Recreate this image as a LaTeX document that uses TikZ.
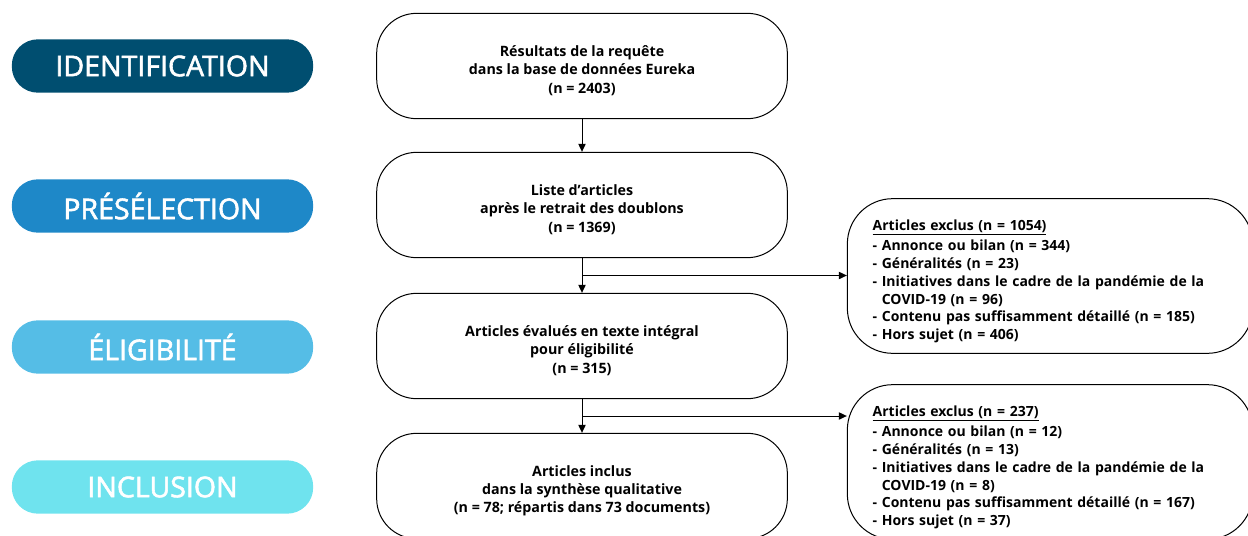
\documentclass[tikz,border=0pt]{standalone}
\usepackage{fontspec}
\setmainfont{Open Sans}
\newfontfamily\phasefont{Open Sans}[FakeBold=2]
\usepackage{xcolor}
\usetikzlibrary{arrows.meta,calc}
\definecolor{phaseA}{RGB}{0,78,112}
\definecolor{phaseB}{RGB}{30,136,200}
\definecolor{phaseC}{RGB}{85,189,230}
\definecolor{phaseD}{RGB}{111,227,238}
\newcommand{\toprule}{\rule{0pt}{15pt}}
\tikzset{
  phase/.style={rounded corners=19.5pt,minimum width=226pt,minimum height=40pt,
    text=white,font=\phasefont\fontsize{21.4}{24}\selectfont,inner sep=0pt},
  flowbox/.style={draw,line width=0.75pt,rounded corners=30pt,minimum width=308pt,
    minimum height=79pt,align=center,font=\bfseries\fontsize{10.7}{13.7}\selectfont},
  exclbox/.style={draw,line width=0.75pt,rounded corners=34pt,minimum width=304pt,
    minimum height=116pt,inner xsep=19pt,text width=266pt,align=left,
    font=\bfseries\fontsize{10.5}{13.3}\selectfont,
    execute at begin node=\rule{0pt}{16pt}},
  flow/.style={line width=0.75pt,-{Triangle[length=6pt,width=5.5pt]}}
}
\begin{document}
\begin{tikzpicture}[x=0.75pt,y=-0.75pt]
\useasboundingbox (0,0) rectangle (1248,535);
% phases
\node[phase,fill=phaseA] (idlab) at (162.5,66) {IDENTIFICATION};
\node[phase,fill=phaseB] (prelab) at (162.5,206) {PRÉSÉLECTION};
\node[phase,fill=phaseC] (elilab) at (162.5,347) {ÉLIGIBILITÉ};
\node[phase,fill=phaseD] (inclab) at (162.5,487) {INCLUSION};
% main flow
\node[flowbox] (id) at (582,66) {\toprule Résultats de la requête\\dans la base de données Eureka\\(n = 2403)};
\node[flowbox] (pre) at (582,205) {\toprule Liste d’articles\\après le retrait des doublons\\(n = 1369)};
\node[flowbox] (eli) at (582,346) {\toprule Articles évalués en texte intégral\\pour éligibilité\\(n = 315)};
\node[flowbox] (inc) at (582,486) {\toprule Articles inclus\\dans la synthèse qualitative\\(n = 78; répartis dans 73 documents)};
% exclusions
\node[exclbox] (exA) at (1050,276) {\underline{Articles exclus (n = 1054)}\\[2pt]
- Annonce ou bilan (n = 344)\\
- Généralités (n = 23)\\
- Initiatives dans le cadre de la pandémie de la\\
\phantom{-} COVID-19 (n = 96)\\
- Contenu pas suffisamment détaillé (n = 185)\\
- Hors sujet (n = 406)};
\node[exclbox] (exB) at (1050,462) {\underline{Articles exclus (n = 237)}\\[2pt]
- Annonce ou bilan (n = 12)\\
- Généralités (n = 13)\\
- Initiatives dans le cadre de la pandémie de la\\
\phantom{-} COVID-19 (n = 8)\\
- Contenu pas suffisamment détaillé (n = 167)\\
- Hors sujet (n = 37)};
\coordinate (splitA) at ($(pre.south)!0.5!(eli.north)$);
\coordinate (splitB) at ($(eli.south)!0.5!(inc.north)$);
\draw[flow] (id) -- (pre);
\draw[flow] (pre) -- (eli);
\draw[flow] (eli) -- (inc);
\draw[flow] (splitA) -- (splitA -| exA.west);
\draw[flow] (splitB) -- (splitB -| exB.west);
\end{tikzpicture}
\end{document}
